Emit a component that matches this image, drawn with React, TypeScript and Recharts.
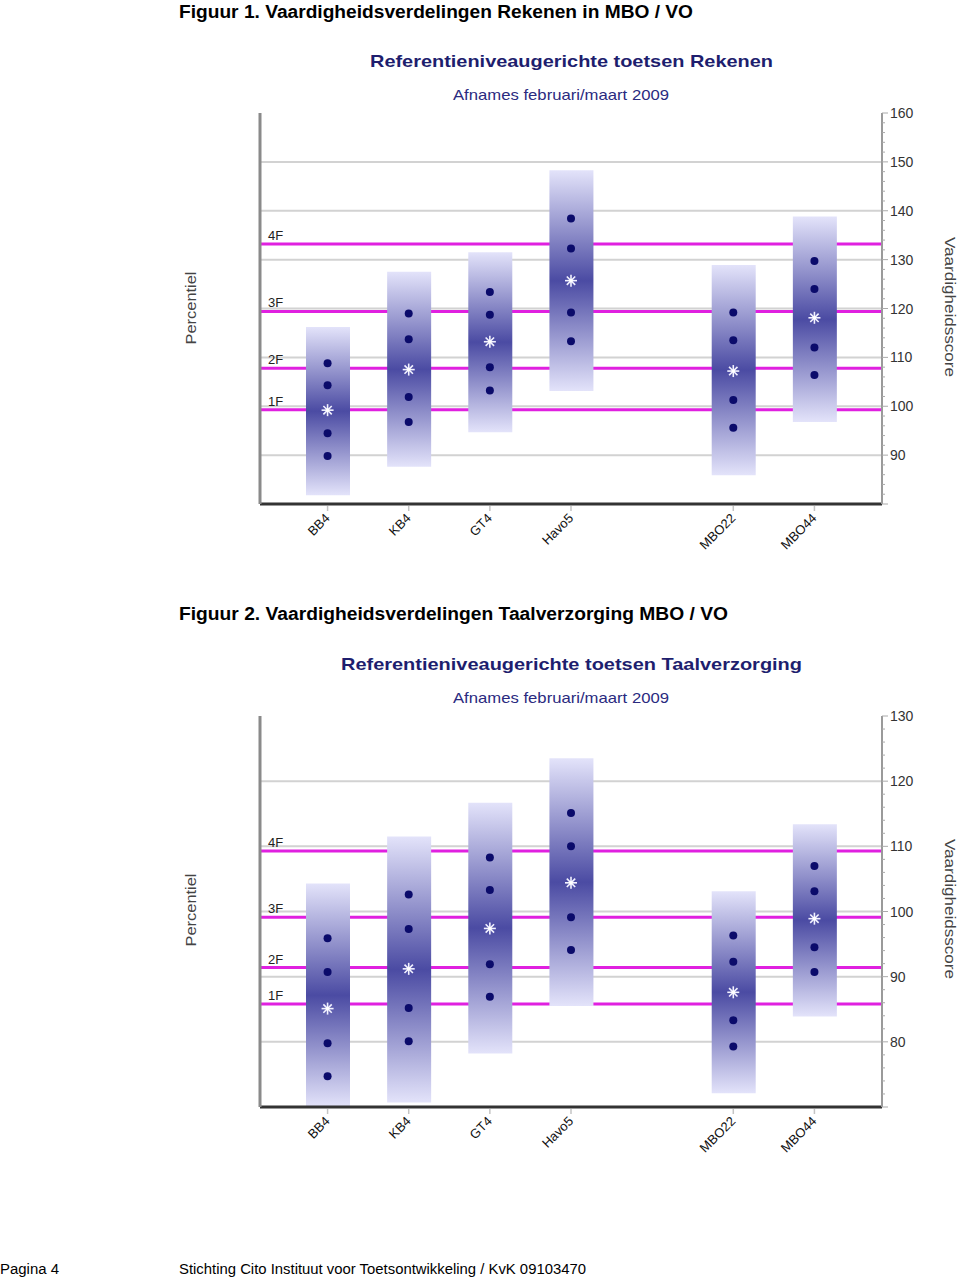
import React from "react";
import {
  Bar,
  CartesianGrid,
  ComposedChart,
  ReferenceLine,
  Scatter,
  XAxis,
  YAxis,
} from "recharts";

// groepen; de lege plek tussen Havo5 en MBO22 is een lege kolom
const categories = ["BB4", "KB4", "GT4", "Havo5", "", "MBO22", "MBO44"];
const levelNames = ["1F", "2F", "3F", "4F"];

// Figuur 1 - Rekenen
const rekenenLow = [81.8, 87.6, 94.7, 103.1, null, 85.9, 96.8];
const rekenenHigh = [116.2, 127.5, 131.5, 148.3, null, 128.9, 138.8];
const rekenenP10 = [89.8, 96.8, 103.2, 113.3, null, 95.6, 106.4];
const rekenenP25 = [94.5, 101.9, 108.0, 119.2, null, 101.3, 112.0];
const rekenenP50 = [99.2, 107.5, 113.2, 125.7, null, 107.2, 118.1];
const rekenenP75 = [104.3, 113.7, 118.7, 132.3, null, 113.5, 124.0];
const rekenenP90 = [108.8, 119.0, 123.4, 138.4, null, 119.2, 129.7];
const rekenenLevels = [99.3, 107.8, 119.4, 133.2];
const rekenenTicks = [90, 100, 110, 120, 130, 140, 150, 160];
const rekenenGrid = [90, 100, 110, 120, 130, 140, 150];

// Figuur 2 - Taalverzorging
const taalLow = [70, 70.7, 78.2, 85.5, null, 72.1, 83.9];
const taalHigh = [104.3, 111.5, 116.7, 123.5, null, 103.1, 113.4];
const taalP10 = [74.7, 80.1, 86.9, 94.1, null, 79.3, 90.7];
const taalP25 = [79.8, 85.2, 91.9, 99.1, null, 83.3, 94.5];
const taalP50 = [85.1, 91.2, 97.4, 104.4, null, 87.6, 98.9];
const taalP75 = [90.7, 97.3, 103.3, 110.0, null, 92.3, 103.1];
const taalP90 = [95.9, 102.6, 108.3, 115.1, null, 96.3, 107.0];
const taalLevels = [85.8, 91.4, 99.1, 109.3];
const taalTicks = [80, 90, 100, 110, 120, 130];
const taalGrid = [80, 90, 100, 110, 120];

const FONT = "'Liberation Sans', Arial, sans-serif";

function minorTicks(lo: number, hi: number) {
  const out: number[] = [];
  for (let v = lo; v <= hi; v += 2) out.push(v);
  return out;
}

const dotShape = (key: string) => (props: any) => {
  if (props.payload?.[key] == null || !Number.isFinite(props.cy)) return <g />;
  return <circle cx={props.cx} cy={props.cy} r={4} fill="#0b0b6b" />;
};

const starShape = (key: string) => (props: any) => {
  if (props.payload?.[key] == null || !Number.isFinite(props.cy)) return <g />;
  const { cx, cy } = props;
  const r = 6;
  const d = r * 0.7;
  return (
    <g stroke="#f2f2ff" strokeWidth={1.6}>
      <line x1={cx - r} y1={cy} x2={cx + r} y2={cy} />
      <line x1={cx} y1={cy - r} x2={cx} y2={cy + r} />
      <line x1={cx - d} y1={cy - d} x2={cx + d} y2={cy + d} />
      <line x1={cx - d} y1={cy + d} x2={cx + d} y2={cy - d} />
      <circle cx={cx} cy={cy} r={1.8} fill="#ffffff" stroke="none" />
    </g>
  );
};

const XTick = (props: any) => {
  const { x, y, payload } = props;
  if (!payload.value) return <g />;
  return (
    <g>
      <line x1={x} x2={x} y1={y + 2} y2={y + 7} stroke="#c4c4c4" strokeWidth={1.5} />
      <text
        transform={`translate(${x + 3},${y + 15}) rotate(-45)`}
        textAnchor="end"
        fontSize={13}
        fontFamily={FONT}
        fill="#111"
      >
        {payload.value}
      </text>
    </g>
  );
};

const RightTick = (props: any) => {
  const { x, y, payload } = props;
  const major = payload.value % 10 === 0;
  return (
    <g>
      <line x1={x} x2={x + (major ? 6 : 3)} y1={y} y2={y} stroke="#aaa" strokeWidth={1} />
      {major && payload.value > props.lowest && (
        <text x={x + 8} y={y + 5} fontSize={14} fontFamily={FONT} fill="#333">
          {payload.value}
        </text>
      )}
    </g>
  );
};

type BlockProps = {
  gradId: string;
  low: (number | null)[];
  high: (number | null)[];
  p10: (number | null)[];
  p25: (number | null)[];
  p50: (number | null)[];
  p75: (number | null)[];
  p90: (number | null)[];
  levels: number[];
  domain: [number, number];
  grid: number[];
};

function ChartBlock(p: BlockProps) {
  const data = categories.map((name, i) => ({
    name,
    range: p.low[i] == null ? null : [p.low[i], p.high[i]],
    p10: p.p10[i],
    p25: p.p25[i],
    p50: p.p50[i],
    p75: p.p75[i],
    p90: p.p90[i],
  }));
  return (
    <ComposedChart
      width={960}
      height={570}
      data={data}
      margin={{ top: 113, right: 18, bottom: 6, left: 200 }}
    >
      <defs>
        <linearGradient id={p.gradId} x1="0" y1="0" x2="0" y2="1">
          <stop offset="0%" stopColor="#e3e3fa" />
          <stop offset="50%" stopColor="#4b4ba3" />
          <stop offset="100%" stopColor="#e3e3fa" />
        </linearGradient>
      </defs>
      <CartesianGrid
        yAxisId="right"
        vertical={false}
        horizontalValues={p.grid}
        stroke="#d2d2d2"
        strokeWidth={2}
      />
      <CartesianGrid
        yAxisId="right"
        vertical={false}
        horizontalValues={p.levels}
        stroke="#e020e0"
        strokeWidth={3}
      />
      <XAxis
        dataKey="name"
        interval={0}
        height={60}
        padding={{ left: 27, right: 27 }}
        axisLine={{ stroke: "#333", strokeWidth: 3 }}
        tickLine={false}
        tickSize={0}
        tickMargin={0}
        tick={<XTick />}
      />
      <YAxis
        yAxisId="left"
        orientation="left"
        width={60}
        domain={p.domain}
        allowDataOverflow
        tick={false}
        tickLine={false}
        axisLine={{ stroke: "#8a8a8a", strokeWidth: 3 }}
      />
      <YAxis
        yAxisId="right"
        orientation="right"
        width={60}
        domain={p.domain}
        allowDataOverflow
        ticks={minorTicks(p.domain[0], p.domain[1])}
        interval={0}
        tickLine={false}
        tickSize={0}
        tickMargin={0}
        tick={<RightTick lowest={p.domain[0]} />}
        axisLine={{ stroke: "#9a9a9a", strokeWidth: 2 }}
      />
      {p.levels.map((v, i) => (
        <ReferenceLine
          key={levelNames[i]}
          yAxisId="right"
          y={v}
          stroke="none"
          label={(lp: any) => (
            <text
              x={lp.viewBox.x + 8}
              y={lp.viewBox.y - 4}
              fontSize={13}
              fontFamily={FONT}
              fill="#222"
            >
              {levelNames[i]}
            </text>
          )}
        />
      ))}
      <Bar
        yAxisId="right"
        dataKey="range"
        barSize={44}
        fill={`url(#${p.gradId})`}
        isAnimationActive={false}
      />
      {["p10", "p25", "p75", "p90"].map((k) => (
        <Scatter
          key={k}
          yAxisId="right"
          dataKey={k}
          shape={dotShape(k)}
          isAnimationActive={false}
        />
      ))}
      <Scatter
        yAxisId="right"
        dataKey="p50"
        shape={starShape("p50")}
        isAnimationActive={false}
      />
    </ComposedChart>
  );
}

function Texts() {
  const title = "#1e1e6e";
  const sub = "#2a2a80";
  return (
    <svg
      width={960}
      height={1278}
      style={{ position: "absolute", left: 0, top: 0, pointerEvents: "none" }}
      fontFamily={FONT}
    >
      <text x={179} y={18} fontSize={18} fontWeight="bold" textLength={514} lengthAdjust="spacingAndGlyphs">
        Figuur 1. Vaardigheidsverdelingen Rekenen in MBO / VO
      </text>
      <text x={571.5} y={67} fontSize={17} fontWeight="bold" fill={title} textAnchor="middle" textLength={403} lengthAdjust="spacingAndGlyphs">
        Referentieniveaugerichte toetsen Rekenen
      </text>
      <text x={561} y={100} fontSize={15} fill={sub} textAnchor="middle" textLength={216} lengthAdjust="spacingAndGlyphs">
        Afnames februari/maart 2009
      </text>
      <text transform="translate(196,308) rotate(-90)" fontSize={14} fill="#444" textAnchor="middle" textLength={73} lengthAdjust="spacingAndGlyphs">
        Percentiel
      </text>
      <text transform="translate(945,307) rotate(90)" fontSize={14} fill="#444" textAnchor="middle" textLength={140} lengthAdjust="spacingAndGlyphs">
        Vaardigheidsscore
      </text>

      <text x={179} y={620} fontSize={18} fontWeight="bold" textLength={549} lengthAdjust="spacingAndGlyphs">
        Figuur 2. Vaardigheidsverdelingen Taalverzorging MBO / VO
      </text>
      <text x={571.5} y={670} fontSize={17} fontWeight="bold" fill={title} textAnchor="middle" textLength={461} lengthAdjust="spacingAndGlyphs">
        Referentieniveaugerichte toetsen Taalverzorging
      </text>
      <text x={561} y={703} fontSize={15} fill={sub} textAnchor="middle" textLength={216} lengthAdjust="spacingAndGlyphs">
        Afnames februari/maart 2009
      </text>
      <text transform="translate(196,910) rotate(-90)" fontSize={14} fill="#444" textAnchor="middle" textLength={73} lengthAdjust="spacingAndGlyphs">
        Percentiel
      </text>
      <text transform="translate(945,909) rotate(90)" fontSize={14} fill="#444" textAnchor="middle" textLength={140} lengthAdjust="spacingAndGlyphs">
        Vaardigheidsscore
      </text>

      <text x={0} y={1274} fontSize={14} textLength={59} lengthAdjust="spacingAndGlyphs">
        Pagina 4
      </text>
      <text x={179} y={1274} fontSize={14} textLength={407} lengthAdjust="spacingAndGlyphs">
        Stichting Cito Instituut voor Toetsontwikkeling / KvK 09103470
      </text>
    </svg>
  );
}

export default function App() {
  return (
    <div
      style={{
        position: "absolute",
        left: 0,
        top: 0,
        width: 960,
        height: 1278,
        background: "#fff",
        fontFamily: FONT,
      }}
    >
      <div style={{ position: "absolute", left: 0, top: 0 }}>
        <ChartBlock
          gradId="gradRekenen"
          low={rekenenLow}
          high={rekenenHigh}
          p10={rekenenP10}
          p25={rekenenP25}
          p50={rekenenP50}
          p75={rekenenP75}
          p90={rekenenP90}
          levels={rekenenLevels}
          domain={[80, 160]}
          grid={rekenenGrid}
        />
      </div>
      <div style={{ position: "absolute", left: 0, top: 603 }}>
        <ChartBlock
          gradId="gradTaal"
          low={taalLow}
          high={taalHigh}
          p10={taalP10}
          p25={taalP25}
          p50={taalP50}
          p75={taalP75}
          p90={taalP90}
          levels={taalLevels}
          domain={[70, 130]}
          grid={taalGrid}
        />
      </div>
      <Texts />
    </div>
  );
}
